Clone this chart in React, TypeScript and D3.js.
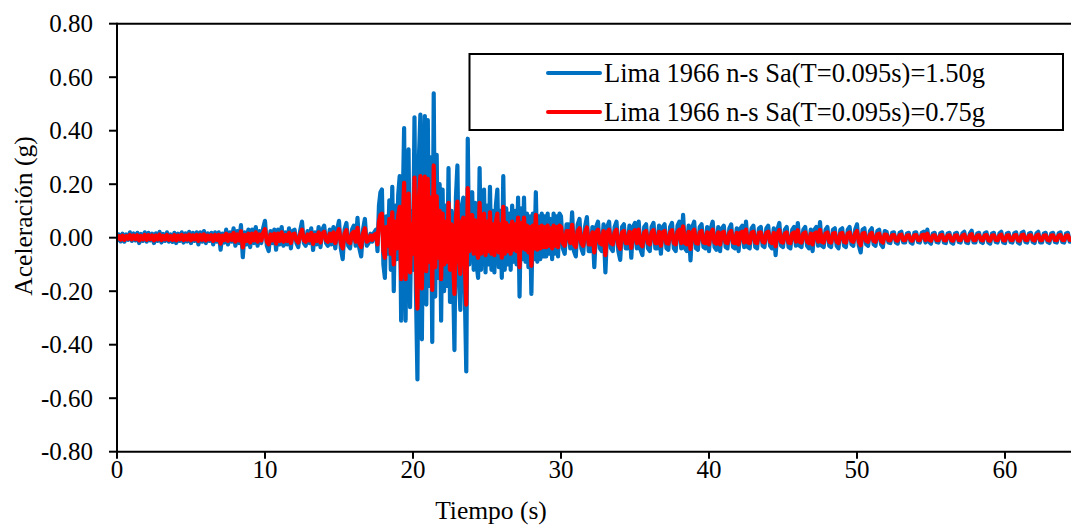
import React from "react";
import * as d3 from "d3";

// ---- Data: ground acceleration in milli-g ----
// Segment 1: t = 0 .. 17.375 s, every 0.125 s
const quietStart = 0;
const quietStep = 0.125;
const blueQuiet = [
  -10, 12, -14, 15, -15, 12, -8, 20, -12, 16, -10, 18, -20, 14, -12, 20,
  -15, 18, -10, 15, -20, 16, -12, 22, -18, 14, -12, 20, -15, 12, -16, 18,
  -20, 15, -12, 20, -18, 16, -14, 22, -20, 18, -12, 20, -25, 20, -15, 25,
  -20, 16, -12, 18, -25, 20, -15, 20, -45, 15, -18, 30, -25, 20, -15, 35,
  -30, 25, -20, 47, -73, 20, -25, 30, -35, 30, -20, 40, -30, 25, -20, 35,
  63, -30, -50, 25, -20, 30, -45, 30, -25, 40, -30, 20, -25, 35, -40, 25,
  30, -20, -35, 25, 60, -20, -30, 25, -20, 35, -46, 20, -25, 40, -35, 30,
  45, -20, -30, 30, -25, 40, -40, 30, 63, -40, -80, 30, 55, -30, -40, 30,
  45, -30, 74, -40, -70, 30, 70, -30, -20, 15, -15, 20,
];
const redQuiet = [
  -5, 6, -7, 8, -8, 6, -4, 10, -6, 8, -5, 9, -10, 7, -6, 10,
  -8, 9, -5, 8, -10, 8, -6, 11, -9, 7, -6, 10, -8, 6, -8, 9,
  -10, 8, -6, 10, -9, 8, -7, 11, -10, 9, -6, 10, -12, 10, -8, 12,
  -10, 8, -6, 9, -12, 10, -8, 10, -22, 8, -9, 15, -12, 10, -8, 18,
  -15, 12, -10, 24, -36, 10, -12, 15, -18, 15, -10, 20, -15, 12, -10, 18,
  32, -15, -25, 12, -10, 15, -22, 15, -12, 20, -15, 10, -12, 18, -20, 12,
  15, -10, -18, 12, 30, -10, -15, 12, -10, 18, -23, 10, -12, 20, -18, 15,
  22, -10, -15, 15, -12, 20, -20, 15, 32, -20, -40, 15, 28, -15, -20, 15,
  22, -15, 37, -20, -35, 15, 35, -15, -10, 8, -8, 10,
];

// Segment 2: strong motion, t = 17.5 .. 29.9 s, every 0.1 s
const strongStart = 17.5;
const strongStep = 0.1;
const blueStrong = [
  30, -50, 120, 170, 180,
  -100, -150, 80, -60, 140, -120, 190, -200, 120, -80,
  160, 230, -310, 100, 410, -310, 220, 330, -260, 100,
  -120, 450, -200, -530, 300, 460, -380, 200, 455, -250,
  440, -180, 300, -390, 540, -220, 310, -150, 200, -310,
  180, -200, 120, -180, 260, -240, 100, -120, -420, 150,
  270, -150, -270, 120, 150, -200, -500, 370, -100, 120,
  170, -120, 130, -100, -150, 260, -120, 110, 180, -130,
  120, -100, 190, -120, 100, -130, 120, 180, -110, 100,
  -150, 230, -120, 110, -100, 90, -120, 120, -90, 100,
  -100, 150, -220, 110, -80, 150, -90, 90, -110, 80,
  -210, 90, -80, 170, -90, 80, -80, 90, -70, 80,
  -70, 90, -60, 70, -80, 90, -60, 80, -70, 90,
];
const redStrong = [
  15, -25, 60, 85, 90,
  -50, -75, 40, -30, 70, -60, 95, -100, 60, -40,
  80, 115, -155, 50, 205, -155, 110, 165, -130, 50,
  -60, 225, -100, -265, 150, 230, -190, 100, 228, -125,
  220, -90, 150, -195, 270, -110, 155, -75, 100, -155,
  90, -100, 60, -90, 130, -120, 50, -60, -210, 75,
  135, -75, -135, 60, 75, -100, -250, 185, -50, 60,
  85, -60, 65, -50, -75, 130, -60, 55, 90, -65,
  60, -50, 95, -60, 50, -65, 60, 90, -55, 50,
  -75, 115, -60, 55, -50, 45, -60, 60, -45, 50,
  -50, 75, -110, 55, -40, 75, -45, 45, -55, 40,
  -105, 45, -40, 85, -45, 40, -40, 45, -35, 40,
  -35, 45, -30, 35, -40, 45, -30, 40, -35, 45,
];

// Segment 3: coda, t = 30 .. 64.5 s, every 0.125 s
const codaStart = 30;
const codaStep = 0.125;
const blueCoda = [
  80, -40, -60, 50, 50, -40, 95, -50, -70, 50, 70, -40, -60, 40, 77, -50,
  -50, 40, -110, 40, 60, -40, -50, 50, -130, 40, 60, -40, -50, 40, 60, -50,
  -83, 40, 50, -40, -40, 45, -75, 40, 55, -40, 60, -45, -65, 40, 50, -40,
  -50, 40, 55, -40, -40, 45, -60, 40, 50, -40, -45, 40, 55, -40, -50, 45,
  60, -40, 85, -40, -50, 45, -85, 40, 60, -40, -45, 40, 50, -35, -40, 40,
  -50, 35, 60, -35, -45, 40, -50, 35, 45, -35, -40, 35, 50, -35, -40, 35,
  -50, 35, 45, -35, 60, -35, -40, 35, 45, -35, -40, 35, 40, -30, -35, 35,
  45, -30, -40, 35, -65, 30, 55, -30, -35, 30, 40, -35, -40, 30, 40, -30,
  55, -30, -35, 30, 40, -30, -40, 30, -50, 30, 40, -30, 58, -30, -35, 30,
  40, -30, -35, 30, 35, -30, -40, 30, 35, -30, -35, 30, 40, -25, -30, 30,
  50, -30, -55, 30, 35, -25, -30, 25, 35, -25, -30, 25, 30, -25, -35, 25,
  22, -18, -20, 18, 20, -18, -22, 18, 22, -18, -18, 16, 18, -18, -22, 18,
  20, -16, -18, 18, 22, -18, 30, -16, -22, 16, 18, -16, -18, 16, 20, -18,
  -20, 16, 18, -18, -22, 16, 18, -16, -18, 16, 22, -18, -20, 16, 26, -18,
  -18, 16, 18, -16, -20, 16, 20, -18, -22, 16, 18, -16, -18, 16, 22, -18,
  -20, 16, 18, -16, -18, 16, 20, -18, -22, 18, 22, -16, -18, 16, 18, -16,
  -20, 16, 22, -18, -18, 16, 18, -16, -20, 16, 18, -16, -18, 16, 20, -16,
  -18, 16, 18, -15, -15,
];
const redCoda = [
  40, -20, -30, 25, 25, -20, 48, -25, -35, 25, 35, -20, -30, 20, 38, -25,
  -25, 20, -55, 20, 30, -20, -25, 25, -65, 20, 30, -20, -25, 20, 30, -25,
  -42, 20, 25, -20, -20, 22, -38, 20, 28, -20, 30, -22, -32, 20, 25, -20,
  -25, 20, 28, -20, -20, 22, -30, 20, 25, -20, -22, 20, 28, -20, -25, 22,
  30, -20, 42, -20, -25, 22, -42, 20, 30, -20, -22, 20, 25, -18, -20, 20,
  -25, 18, 30, -18, -22, 20, -25, 18, 22, -18, -20, 18, 25, -18, -20, 18,
  -25, 18, 22, -18, 30, -18, -20, 18, 22, -18, -20, 18, 20, -15, -18, 18,
  22, -15, -20, 18, -32, 15, 28, -15, -18, 15, 20, -18, -20, 15, 20, -15,
  28, -15, -18, 15, 20, -15, -20, 15, -25, 15, 20, -15, 29, -15, -18, 15,
  20, -15, -18, 15, 18, -15, -20, 15, 18, -15, -18, 15, 20, -12, -15, 15,
  25, -15, -28, 15, 18, -12, -15, 12, 18, -12, -15, 12, 15, -12, -18, 12,
  11, -9, -10, 9, 10, -9, -11, 9, 11, -9, -9, 8, 9, -9, -11, 9,
  10, -8, -9, 9, 11, -9, 15, -8, -11, 8, 9, -8, -9, 8, 10, -9,
  -10, 8, 9, -9, -11, 8, 9, -8, -9, 8, 11, -9, -10, 8, 13, -9,
  -9, 8, 9, -8, -10, 8, 10, -9, -11, 8, 9, -8, -9, 8, 11, -9,
  -10, 8, 9, -8, -9, 8, 10, -9, -11, 9, 11, -8, -9, 8, 9, -8,
  -10, 8, 11, -9, -9, 8, 9, -8, -10, 8, 9, -8, -9, 8, 10, -8,
  -9, 8, 9, -8, -8,
];

const xTicks = [0, 10, 20, 30, 40, 50, 60];
const yTicks = [-0.8, -0.6, -0.4, -0.2, 0, 0.2, 0.4, 0.6, 0.8];
const seriesNames = [
  "Lima 1966 n-s Sa(T=0.095s)=1.50g",
  "Lima 1966 n-s Sa(T=0.095s)=0.75g",
];
const seriesColors = ["#0070C0", "#FF0000"];

type Pt = { t: number; a: number };
function build(segs: [number, number, number[]][]): Pt[] {
  const out: Pt[] = [];
  segs.forEach(([t0, dt, vals]) => {
    vals.forEach((v, i) => out.push({ t: +(t0 + i * dt).toFixed(4), a: v / 1000 }));
  });
  return out;
}

const blueData = build([
  [quietStart, quietStep, blueQuiet],
  [strongStart, strongStep, blueStrong],
  [codaStart, codaStep, blueCoda],
]);
const redData = build([
  [quietStart, quietStep, redQuiet],
  [strongStart, strongStep, redStrong],
  [codaStart, codaStep, redCoda],
]);

const W = 1071;
const H = 526;
const left = 117;
const top = 23.7;
const bottom = 451.7;
const font = "'Liberation Serif', 'Times New Roman', serif";

export default function App() {
  const x = d3.scaleLinear().domain([0, 65]).range([left, left + 65 * 14.8]);
  const y = d3.scaleLinear().domain([-0.8, 0.8]).range([bottom, top]);
  const line = d3
    .line<Pt>()
    .x((d) => x(d.t))
    .y((d) => y(d.a));

  return (
    <svg
      width={W}
      height={H}
      style={{ position: "absolute", left: 0, top: 0, background: "#fff" }}
      fontFamily={font}
    >
      <rect x={0} y={0} width={W} height={H} fill="#fff" />
      <defs>
        <clipPath id="plotclip">
          <rect x={left} y={top - 2} width={W - left} height={bottom - top + 4} />
        </clipPath>
      </defs>

      <g clipPath="url(#plotclip)">
        <path d={line(blueData) || ""} fill="none" stroke={seriesColors[0]} strokeWidth={4.2} strokeLinejoin="round" strokeLinecap="round" />
        <path d={line(redData) || ""} fill="none" stroke={seriesColors[1]} strokeWidth={4.2} strokeLinejoin="round" strokeLinecap="round" />
      </g>

      {/* frame */}
      <line x1={left} x2={W} y1={top} y2={top} stroke="#000" strokeWidth={2} />
      <line x1={left} x2={W} y1={bottom} y2={bottom} stroke="#000" strokeWidth={2} />
      <line x1={left} x2={left} y1={top - 1} y2={bottom + 1} stroke="#000" strokeWidth={2} />

      {/* y ticks */}
      {yTicks.map((v) => (
        <g key={v}>
          <line x1={left - 8} x2={left} y1={y(v)} y2={y(v)} stroke="#000" strokeWidth={2} />
          <text x={93} y={y(v) + 8.3} fontSize={25} textAnchor="end" fill="#000">
            {d3.format(".2f")(v).replace("−", "-")}
          </text>
        </g>
      ))}

      {/* x ticks */}
      {xTicks.map((v) => (
        <g key={v}>
          <line x1={x(v)} x2={x(v)} y1={bottom} y2={bottom + 7} stroke="#000" strokeWidth={2} />
          <text x={x(v)} y={bottom + 26} fontSize={25} textAnchor="middle" fill="#000">
            {v}
          </text>
        </g>
      ))}

      {/* axis titles */}
      <text x={491} y={519} fontSize={25.5} textAnchor="middle" fill="#000">
        Tiempo (s)
      </text>
      <text
        transform={`translate(32, 216) rotate(-90)`}
        fontSize={25.5}
        textAnchor="middle"
        fill="#000"
      >
        Aceleración (g)
      </text>

      {/* legend */}
      <rect x={469.5} y={54} width={593.5} height={76} fill="#fff" stroke="#000" strokeWidth={2} />
      {seriesNames.map((name, i) => (
        <g key={name}>
          <line
            x1={548}
            x2={600}
            y1={73 + i * 39}
            y2={73 + i * 39}
            stroke={seriesColors[i]}
            strokeWidth={4}
            strokeLinecap="round"
          />
          <text x={604} y={82 + i * 39} fontSize={26.5} fill="#000">
            {name}
          </text>
        </g>
      ))}
    </svg>
  );
}
